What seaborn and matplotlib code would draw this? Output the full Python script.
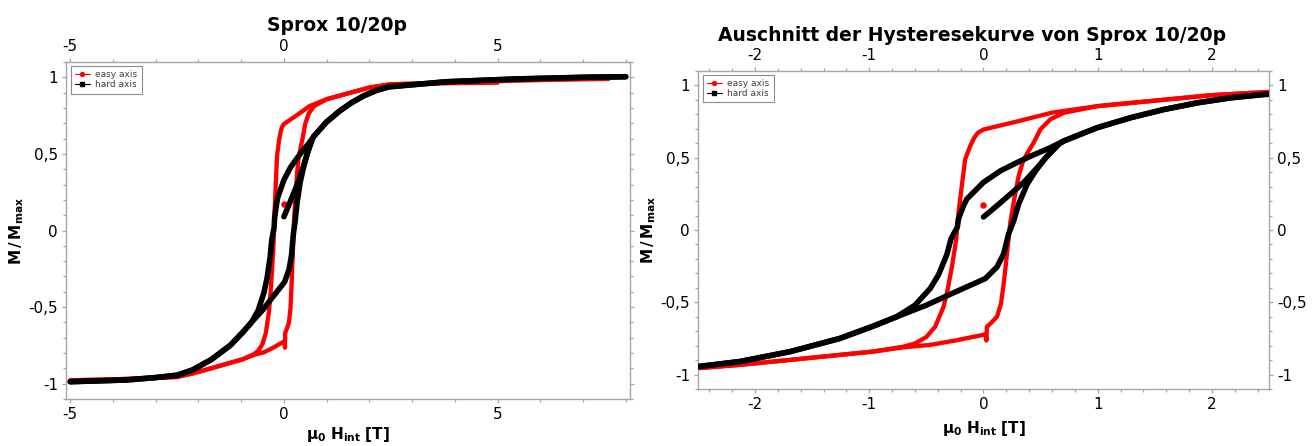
import matplotlib
matplotlib.use("Agg")
import matplotlib.pyplot as plt
from matplotlib.lines import Line2D
from matplotlib.ticker import MultipleLocator
import pandas as pd
import seaborn as sns

# ---------------- measured hysteresis branches (mu0*H_int in T, M/M_max) ----------------
# easy axis, field decreasing from positive saturation
easy_down_h = [5.0, 4.0, 3.0, 2.5, 2.0, 1.5, 1.0, 0.6, 0.3, 0.0, -0.045, -0.08, -0.116,
               -0.16, -0.175, -0.19, -0.204, -0.219, -0.239, -0.277, -0.315, -0.35, -0.423,
               -0.50, -0.60, -0.70, -0.965, -1.257, -1.696, -2.135, -2.5, -3.0, -4.0, -5.0]
easy_down_m = [0.965, 0.962, 0.958, 0.955, 0.933, 0.895, 0.857, 0.812, 0.752, 0.695, 0.675,
               0.64, 0.582, 0.49, 0.398, 0.306, 0.215, 0.123, -0.065, -0.257, -0.417, -0.531,
               -0.669, -0.74, -0.785, -0.807, -0.841, -0.864, -0.899, -0.933, -0.956, -0.962,
               -0.972, -0.978]
# easy axis, field increasing from negative saturation
easy_up_h = [-5.0, -4.0, -3.0, -2.5, -2.135, -1.696, -1.257, -0.965, -0.70, -0.467, -0.25,
             0.0, 0.02, 0.025, 0.03, 0.07, 0.118, 0.153, 0.177, 0.206, 0.235, 0.264, 0.308,
             0.352, 0.44, 0.499, 0.586, 0.703, 1.0, 1.5, 2.0, 2.5, 3.0, 4.0, 5.0, 6.0, 7.6]
easy_up_m = [-0.978, -0.972, -0.962, -0.956, -0.933, -0.899, -0.864, -0.841, -0.812, -0.795,
             -0.765, -0.725, -0.72, -0.765, -0.67, -0.64, -0.60, -0.51, -0.371, -0.164, 0.054,
             0.19, 0.375, 0.49, 0.605, 0.697, 0.766, 0.811, 0.857, 0.895, 0.933, 0.955, 0.958,
             0.965, 0.975, 0.982, 0.99]
# easy axis, first measured point
easy_start_h = [0.0]
easy_start_m = [0.175]

# hard axis, field decreasing from positive saturation
hard_down_h = [8.0, 7.0, 5.4, 3.8, 2.46, 2.167, 1.874, 1.581, 1.289, 0.996, 0.703, 0.586,
               0.411, 0.294, 0.15, 0.0, -0.145, -0.175, -0.219, -0.229, -0.284, -0.321,
               -0.394, -0.467, -0.60, -0.76, -0.965, -1.257, -1.696, -2.135, -2.5, -3.0,
               -3.7, -5.0]
hard_down_m = [1.004, 1.0, 0.989, 0.971, 0.938, 0.915, 0.88, 0.834, 0.777, 0.708, 0.616,
               0.57, 0.51, 0.467, 0.41, 0.33, 0.215, 0.169, 0.077, 0.02, -0.06, -0.17, -0.31,
               -0.405, -0.52, -0.60, -0.665, -0.75, -0.842, -0.91, -0.945, -0.96, -0.976,
               -0.987]
# hard axis, field increasing from negative saturation
hard_up_h = [-5.0, -3.7, -3.0, -2.5, -2.135, -1.696, -1.257, -0.965, -0.76, -0.5, -0.25,
             0.016, 0.118, 0.177, 0.22, 0.265, 0.308, 0.383, 0.456, 0.544, 0.645, 0.703,
             0.996, 1.289, 1.581, 1.874, 2.167, 2.46, 3.8, 5.4, 7.0, 8.0]
hard_up_m = [-0.987, -0.976, -0.96, -0.945, -0.91, -0.842, -0.75, -0.665, -0.60, -0.52,
             -0.43, -0.336, -0.256, -0.164, -0.026, 0.065, 0.18, 0.318, 0.409, 0.50, 0.585,
             0.616, 0.708, 0.777, 0.834, 0.88, 0.915, 0.938, 0.971, 0.989, 1.0, 1.004]
# hard axis, initial magnetisation from H = 0
hard_virgin_h = [0.0, 0.118, 0.235, 0.352, 0.469, 0.557, 0.65]
hard_virgin_m = [0.09, 0.168, 0.248, 0.329, 0.43, 0.51, 0.585]

series_labels = ["easy axis", "hard axis"]
series_colors = {"easy axis": "#ff0000", "hard axis": "#000000"}

left_title = "Sprox 10/20p"
right_title = "Auschnitt der Hysteresekurve von Sprox 10/20p"
x_label = r"$\mathbf{\mu_0\ H_{int}\ [T]}$"
y_label = r"$\mathbf{M\,/\,M_{max}}$"

left_xticks = [-5, 0, 5]
right_xticks = [-2, -1, 0, 1, 2]
y_ticks = [-1, -0.5, 0, 0.5, 1]
y_tick_labels = ["-1", "-0,5", "0", "0,5", "1"]


def branch_frame(label, name, h, m):
    return pd.DataFrame({"H": h, "M": m, "axis": label, "branch": name})


easy_df = pd.concat([
    branch_frame("easy axis", "down", easy_down_h, easy_down_m),
    branch_frame("easy axis", "up", easy_up_h, easy_up_m),
], ignore_index=True)
hard_df = pd.concat([
    branch_frame("hard axis", "down", hard_down_h, hard_down_m),
    branch_frame("hard axis", "up", hard_up_h, hard_up_m),
    branch_frame("hard axis", "virgin", hard_virgin_h, hard_virgin_m),
], ignore_index=True)
easy_start = pd.DataFrame({"H": easy_start_h, "M": easy_start_m})

# ---------------- figure ----------------
sns.set_theme(style="white")
plt.rcParams["font.family"] = ["DejaVu Sans"]
plt.rcParams["mathtext.fontset"] = "dejavusans"
plt.rcParams["text.color"] = "black"
plt.rcParams["axes.labelcolor"] = "black"

W, H = 1316, 446
fig = plt.figure(figsize=(W / 100, H / 100), dpi=100)
fig.patch.set_facecolor("white")

ax1 = fig.add_axes([66 / W, 1 - 399 / H, 564 / W, 337 / H])
ax2 = fig.add_axes([698 / W, 1 - 389 / H, 571 / W, 318 / H])

spine_grey = "#a6a6a6"


def draw_curves(ax):
    sns.lineplot(data=easy_df, x="H", y="M", units="branch", estimator=None, sort=False,
                 color=series_colors["easy axis"], linewidth=3.1, ax=ax, legend=False,
                 solid_capstyle="round", zorder=2)
    sns.scatterplot(data=easy_start, x="H", y="M", color=series_colors["easy axis"],
                    s=22, linewidth=0, ax=ax, legend=False, zorder=2)
    sns.lineplot(data=hard_df, x="H", y="M", units="branch", estimator=None, sort=False,
                 color=series_colors["hard axis"], linewidth=4.0, ax=ax, legend=False,
                 solid_capstyle="round", zorder=3)


def style_axes(ax, xlim, xticks, xminor, label_right, xpad):
    ax.set_xlim(*xlim)
    ax.set_ylim(-1.1, 1.1)
    ax.set_xticks(xticks)
    ax.set_xticklabels([str(t) for t in xticks])
    ax.set_yticks(y_ticks)
    ax.set_yticklabels(y_tick_labels)
    ax.xaxis.set_minor_locator(MultipleLocator(xminor))
    ax.yaxis.set_minor_locator(MultipleLocator(0.1))
    for sp in ax.spines.values():
        sp.set_visible(True)
        sp.set_color(spine_grey)
        sp.set_linewidth(1.0)
    ax.tick_params(which="both", direction="out", color=spine_grey, width=0.9,
                   top=True, bottom=True, left=True, right=True,
                   labeltop=True, labelbottom=True, labelleft=True,
                   labelright=label_right)
    ax.tick_params(which="major", length=3.2, pad=2.5, labelsize=11, labelcolor="black")
    ax.tick_params(which="minor", length=2.2)
    ax.set_xlabel(x_label, fontsize=11, labelpad=xpad, color="black")
    ax.set_ylabel(y_label, fontsize=11, labelpad=2, color="black")
    handles = [
        Line2D([0], [0], color=series_colors["easy axis"], lw=0.8, marker="o", ms=2.8),
        Line2D([0], [0], color=series_colors["hard axis"], lw=0.8, marker="s", ms=2.6),
    ]
    leg = ax.legend(handles, series_labels, loc="upper left", bbox_to_anchor=(0.008, 0.988),
                    borderaxespad=0, frameon=True, fancybox=False, framealpha=1,
                    handlelength=1.7, handletextpad=0.6, labelspacing=0.15,
                    borderpad=0.45,
                    prop={"family": ["Liberation Sans Narrow", "DejaVu Sans"], "size": 6.5})
    leg.get_frame().set_edgecolor("#8c8c8c")
    leg.get_frame().set_linewidth(0.8)
    for t in leg.get_texts():
        t.set_color("#404040")


draw_curves(ax1)
style_axes(ax1, (-5.1, 8.1), left_xticks, 1, False, 2.5)
draw_curves(ax2)
style_axes(ax2, (-2.5, 2.5), right_xticks, 0.2, True, 5)

fig.text(337 / W, 1 - 31 / H, left_title, ha="center", va="baseline",
         fontsize=13.5, fontweight="bold", color="black")
fig.text(972 / W, 1 - 41 / H, right_title, ha="center", va="baseline",
         fontsize=13.5, fontweight="bold", color="black")

fig.savefig("out.png", dpi=100, facecolor="white")
